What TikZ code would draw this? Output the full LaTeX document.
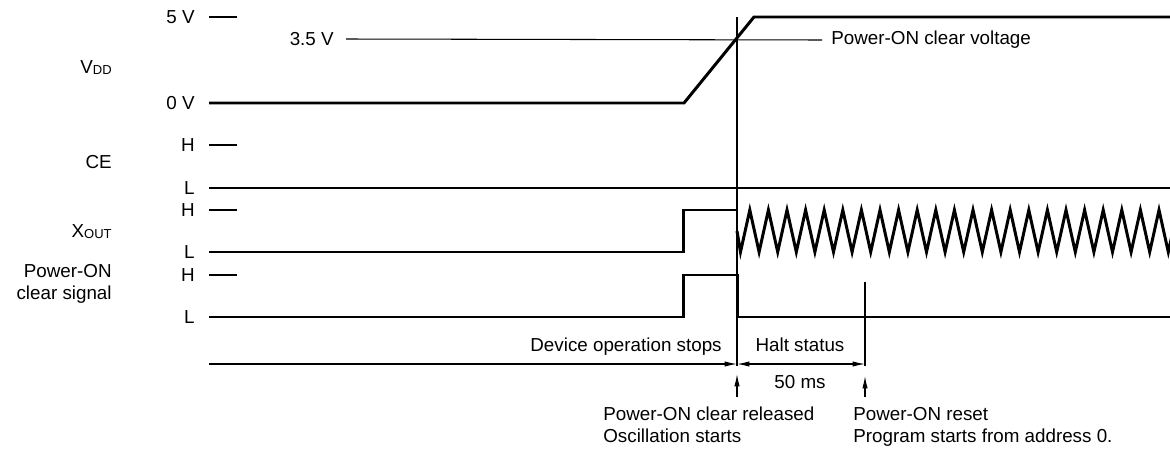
\documentclass[tikz,border=0pt]{standalone}
\usepackage{fontspec}
\setmainfont{Liberation Sans}
\usetikzlibrary{positioning, arrows.meta, calc}

\newcommand{\subsig}[1]{\raisebox{-0.6pt}{\fontsize{7.4}{8}\selectfont #1}}

\begin{document}
\begin{tikzpicture}[
    x=0.02cm, y=-0.02cm,
    >={Latex[length=7pt, width=3pt]},
    font={\fontsize{10.7}{12.4}\selectfont},
    trace/.style={line width=1.7pt},
    thin/.style={line width=0.6pt},
    lvl/.style={anchor=east, inner sep=0pt},
    signame/.style={anchor=east, inner sep=0pt, align=right}
]
\useasboundingbox (0,0) rectangle (1170,450);

% --- Signalnamen links ---
\node[signame] (vdd) at (112,68)  {V\subsig{DD}};
\node[signame] (ce)  at (112,162) {CE};
\node[signame] (xo)  at (112,232) {X\subsig{OUT}};
\node[signame] (clr) at (112,284) {Power-ON\\clear signal};

% --- Pegel ---
\node[lvl] (v5)  at (195,17)  {5 V};
\node[lvl] (v35) at (334,39)  {3.5 V};
\node[lvl] (v0)  at (195,103) {0 V};
\node[lvl] (ceH) at (195,145) {H};
\node[lvl] (ceL) at (195,188) {L};
\node[lvl] (xoH) at (195,210) {H};
\node[lvl] (xoL) at (195,252) {L};
\node[lvl] (clH) at (195,275) {H};
\node[lvl] (clL) at (195,317) {L};
\node[anchor=west, inner sep=0pt] (pocv) at (831,40) {Power-ON clear voltage};

% kurze Striche fuer die oberen Pegel
\foreach \n in {v5, ceH, xoH, clH}
    \draw[thin] ($(\n.east)+(14,0)$) -- ++(28,0);
% 3.5 V Linie
\draw[thin] ($(v35.east)+(12,0)$) -- ($(pocv.west)+(-9,0)$);

% --- Verlaeufe ---
% VDD
\draw[trace] ($(v0.east)+(14,0)$) -- (684,103) -- (754,17) -- (1170,17);
% CE
\draw[trace] ($(ceL.east)+(14,0)$) -- (1170,188);
% XOUT
\draw[trace] ($(xoL.east)+(14,0)$) -- (683,252) -- (683,210) -- (736,210);
\begin{scope}
    \clip (730,190) rectangle (1170,270);
    \draw[trace] (737,231) -- (740.5,252)
        \foreach \k in {0,...,23} { -- ({749.8+18.6*\k},210) -- ({759.1+18.6*\k},252) };
\end{scope}
% Power-ON clear signal
\draw[trace] ($(clL.east)+(14,0)$) -- (683,317) -- (683,275) -- (737,275) -- (737,317) -- (1170,317);

% --- Zeitmarken unten ---
\coordinate (rel) at (737,397);
\coordinate (rst) at (865,397);
\draw[thin] (737,17) -- (737,366);
\draw[thin] (865,282) -- (865,366);
\draw[thin, ->] (rel) -- (737,374);
\draw[thin, ->] (rst) -- (865,376);

\coordinate (d0) at (209,364);
\draw[thin, ->] (d0) -- (737,364);
\draw[thin, <->] (737,364) -- (865,364);

\node[anchor=base east, inner sep=0pt] (stop) at (722,351) {Device operation stops};
\node[anchor=base, inner sep=0pt] (halt) at (800,351) {Halt status};
\node[anchor=base, inner sep=0pt] (ms) at (800,388) {50 ms};

\node[anchor=north west, inner sep=0pt, align=left] (reltxt) at (603,407)
    {Power-ON clear released\\Oscillation starts};
\node[anchor=north west, inner sep=0pt, align=left] (rsttxt) at (853,407)
    {Power-ON reset\\Program starts from address 0.};

\end{tikzpicture}
\end{document}
